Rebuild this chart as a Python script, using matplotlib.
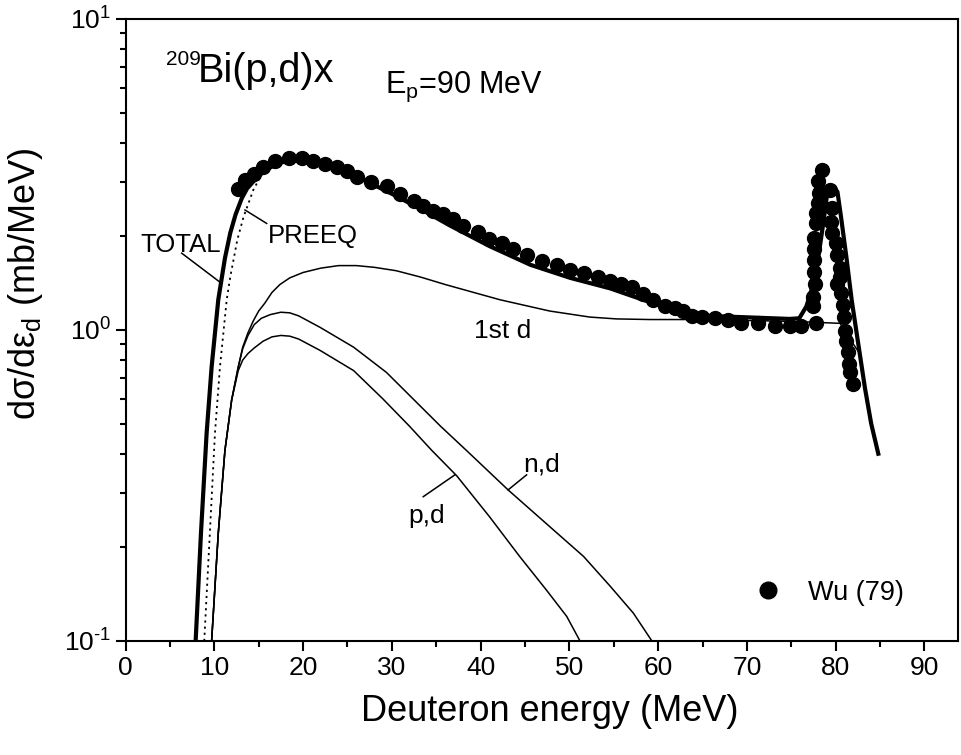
import math
import matplotlib
matplotlib.use("Agg")
import matplotlib.pyplot as plt
from matplotlib.ticker import MultipleLocator, LogLocator, NullFormatter, FuncFormatter

plt.rcParams['font.family'] = ['Liberation Sans', 'DejaVu Sans']
plt.rcParams['mathtext.fontset'] = 'custom'
plt.rcParams['mathtext.rm'] = 'Liberation Sans'
plt.rcParams['mathtext.it'] = 'Liberation Sans'
plt.rcParams['mathtext.default'] = 'regular'
plt.rcParams['axes.unicode_minus'] = False

# experimental points, Wu (79)
wu_e = [12.64, 13.46, 14.50, 15.52, 16.84, 18.45, 19.91, 21.15, 22.47, 23.78,
        24.91, 26.04, 27.61, 29.41, 30.91, 32.52, 33.54, 34.66, 35.79, 36.91,
        38.00, 39.73, 40.97, 42.36, 43.67, 45.18, 46.87, 48.63, 50.06, 51.63,
        53.24, 54.56, 55.77, 57.00, 58.24, 59.37, 60.75, 61.88, 62.82, 63.76,
        64.89, 66.40, 67.88, 69.39, 71.26, 73.14, 74.83, 76.15, 77.84,
        77.45, 77.45, 77.65, 77.53, 77.53, 77.53, 77.53, 77.84, 77.76, 78.02,
        78.13, 78.02, 78.51,
        79.34, 79.53, 79.45, 79.64, 80.01, 80.16, 80.46, 80.46, 80.16, 80.65,
        80.77, 80.91, 81.02, 81.14, 81.40, 81.51, 81.59, 81.96]
wu_y = [2.83, 3.03, 3.17, 3.34, 3.48, 3.57, 3.57, 3.48, 3.41, 3.35,
        3.24, 3.10, 2.98, 2.90, 2.73, 2.60, 2.50, 2.41, 2.36, 2.27,
        2.16, 2.07, 1.96, 1.90, 1.82, 1.74, 1.66, 1.62, 1.56, 1.52,
        1.48, 1.44, 1.40, 1.37, 1.30, 1.25, 1.19, 1.18, 1.15, 1.11,
        1.10, 1.09, 1.08, 1.05, 1.05, 1.03, 1.03, 1.03, 1.05,
        1.19, 1.28, 1.40, 1.54, 1.68, 1.82, 1.97, 2.20, 2.38, 2.55,
        2.76, 3.02, 3.27,
        2.82, 2.46, 2.23, 2.05, 1.90, 1.74, 1.58, 1.48, 1.40, 1.31,
        1.20, 1.10, 0.99, 0.92, 0.85, 0.78, 0.73, 0.67]

# calculated spectra
total_e = [7.9, 8.5, 9.14, 9.7, 10.45, 11.2, 11.8, 12.4, 13.1, 13.7, 14.4, 15.5,
           17.0, 18.5, 20.0, 21.5, 23.0, 25.0, 27.0, 30.0, 33.0, 36.5, 41.0,
           45.6, 50.1, 54.6, 58.3, 62.8, 65.5, 69.2, 74.8, 75.9, 76.7, 77.4,
           78.0, 78.6, 79.0, 79.6, 80.2, 80.6, 81.2, 81.8, 82.5, 83.3, 84.0, 84.8]
total_y = [0.1, 0.222, 0.467, 0.76, 1.25, 1.70, 2.05, 2.35, 2.65, 2.85, 3.0, 3.22,
           3.42, 3.51, 3.52, 3.46, 3.36, 3.20, 3.02, 2.74, 2.47, 2.17, 1.86,
           1.62, 1.47, 1.36, 1.25, 1.13, 1.11, 1.10, 1.085, 1.09, 1.19, 1.38,
           1.68, 2.20, 2.68, 2.90, 2.78, 2.31, 1.72, 1.25, 0.92, 0.65, 0.50, 0.40]

preeq_e = [8.87, 9.5, 10.08, 10.64, 11.4, 11.8, 12.6, 13.3, 14.4, 15.5]
preeq_y = [0.1, 0.222, 0.467, 0.76, 1.25, 1.48, 1.95, 2.31, 2.82, 3.22]

first_e = [9.7, 10.45, 11.2, 11.96, 12.7, 13.2, 13.8, 14.4, 15.0, 15.7, 16.5,
           17.4, 18.5, 20.0, 22.0, 24.0, 26.0, 28.0, 30.5, 33.2, 36.0, 38.8,
           42.2, 47.8, 52.3, 55.3, 59.1, 63.6, 67.0, 72.0, 77.0, 80.5, 81.2,
           82.0, 82.7]
first_y = [0.1, 0.222, 0.41, 0.596, 0.76, 0.88, 0.98, 1.07, 1.15, 1.22, 1.32,
           1.40, 1.47, 1.53, 1.58, 1.61, 1.61, 1.59, 1.55, 1.48, 1.40, 1.33,
           1.25, 1.15, 1.10, 1.085, 1.08, 1.08, 1.075, 1.07, 1.06, 1.05, 0.97,
           0.90, 0.84]

nd_e = [9.7, 10.45, 11.2, 11.96, 12.7, 13.2, 13.8, 14.5, 15.3, 16.3, 17.5,
        18.5, 19.5, 21.9, 25.7, 29.4, 32.4, 35.5, 38.4, 43.1, 47.8, 51.6,
        54.6, 57.2, 59.3]
nd_y = [0.1, 0.222, 0.41, 0.596, 0.76, 0.87, 0.96, 1.04, 1.09, 1.12, 1.14,
        1.135, 1.11, 1.02, 0.88, 0.73, 0.60, 0.49, 0.41, 0.306, 0.233, 0.187,
        0.150, 0.123, 0.1]

pd_e = [9.7, 10.45, 11.2, 11.96, 12.7, 13.2, 13.8, 14.5, 15.5, 16.5, 17.5,
        18.5, 19.5, 21.9, 25.7, 29.0, 32.0, 34.5, 37.3, 41.0, 44.4, 47.4,
        49.7, 51.2]
pd_y = [0.1, 0.222, 0.41, 0.596, 0.74, 0.80, 0.84, 0.875, 0.92, 0.95, 0.96,
        0.955, 0.935, 0.86, 0.74, 0.60, 0.49, 0.41, 0.34, 0.251, 0.187, 0.146,
        0.120, 0.1]

fig = plt.figure(figsize=(9.61, 7.55), dpi=100)
ax = fig.add_axes([0.1306, 0.151, 0.866, 0.824])

ax.plot(first_e, first_y, color='black', lw=1.1)
ax.plot(nd_e, nd_y, color='black', lw=1.1)
ax.plot(pd_e, pd_y, color='black', lw=1.1)
ax.plot(preeq_e, preeq_y, color='black', lw=1.3, ls=(0, (1.2, 2.2)))
ax.plot(total_e, total_y, color='black', lw=3.0)
ax.plot(wu_e, wu_y, 'o', color='black', ms=10, label='Wu (79)')

ax.set_yscale('log')
ax.set_xlim(0, 93.75)
ax.set_ylim(0.1, 10)
ax.xaxis.set_major_locator(MultipleLocator(10))
ax.xaxis.set_minor_locator(MultipleLocator(5))
ax.yaxis.set_major_locator(LogLocator(base=10))
ax.yaxis.set_minor_locator(LogLocator(base=10, subs=range(2, 10)))
ax.yaxis.set_minor_formatter(NullFormatter())
ax.yaxis.set_major_formatter(FuncFormatter(
    lambda v, p: '10$^{\\text{%d}}$' % round(math.log10(v))))

for s in ax.spines.values():
    s.set_linewidth(1.5)
ax.tick_params(which='major', direction='out', length=7.5, width=1.5,
               labelsize=19, pad=3)
ax.tick_params(which='minor', direction='out', length=4.5, width=1.5)

ax.set_xlabel('Deuteron energy (MeV)', fontsize=26, labelpad=12)
ax.xaxis.set_label_coords(0.51, -0.085)
ax.set_ylabel('dσ/dε$_\\mathrm{d}$ (mb/MeV)', fontsize=26, labelpad=14)
ax.yaxis.set_label_coords(-0.097, 0.574)

# curve labels with leader lines
ax.text(1.63, 1.78, 'TOTAL', fontsize=18.5, va='baseline')
ax.plot([6.33, 10.56], [1.765, 1.43], color='black', lw=1.1)
ax.text(16.08, 1.90, 'PREEQ', fontsize=18.5, va='baseline')
ax.plot([13.46, 15.9], [2.43, 2.20], color='black', lw=1.1)
ax.text(39.3, 0.943, '1st d', fontsize=19, va='baseline')
ax.text(44.8, 0.350, 'n,d', fontsize=19, va='baseline')
ax.plot([43.1, 45.18], [0.306, 0.342], color='black', lw=1.1)
ax.text(31.85, 0.2395, 'p,d', fontsize=19, va='baseline')
ax.plot([33.54, 37.1], [0.291, 0.342], color='black', lw=1.1)

ax.text(0.0483, 0.926, '209', fontsize=15, transform=ax.transAxes,
        va='baseline')
ax.text(0.0870, 0.8987, 'Bi(p,d)x', fontsize=28.5, transform=ax.transAxes,
        va='baseline')
ax.text(0.3117, 0.881, 'E$_\\mathrm{p}$=90 MeV', fontsize=22, transform=ax.transAxes,
        va='baseline')

ax.legend(loc='center left', bbox_to_anchor=(0.7555, 0.0772), frameon=False,
          fontsize=19.5, numpoints=1, handlelength=1.0, handletextpad=0.98,
          borderpad=0, borderaxespad=0, markerscale=1.2)

fig.savefig('out.png', dpi=100)
